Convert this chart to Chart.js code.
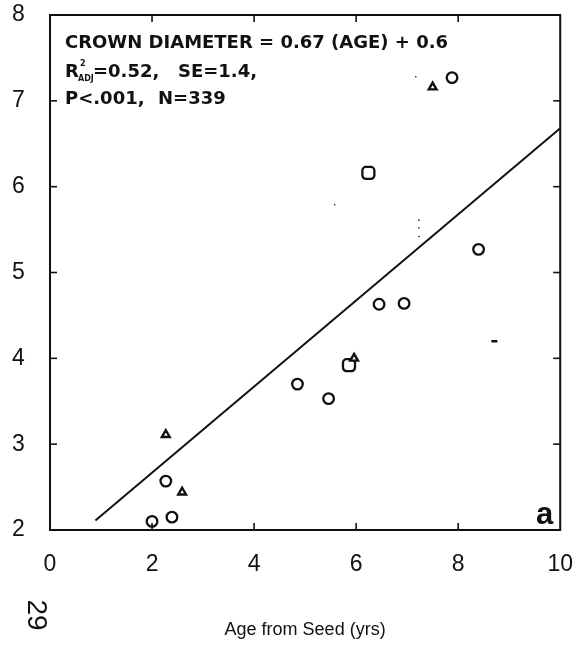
<!DOCTYPE html>
<html>
<head>
<meta charset="utf-8">
<script src="https://cdn.jsdelivr.net/npm/chart.js@4"></script>
<style>
  html, body { margin: 0; padding: 0; background: #fff; }
  #wrap { width: 573px; height: 660px; }
</style>
</head>
<body>
<div id="wrap"><canvas id="crownChart" width="573" height="660"></canvas></div>
<script>
// values (age in yrs, crown diameter)
const circleAge   = [2.0, 2.39, 2.27, 4.85, 5.46, 6.45, 6.94, 7.88, 8.40];
const circleCrown = [2.1, 2.15, 2.57, 3.70, 3.53, 4.63, 4.64, 7.27, 5.27];
const triAge      = [2.27, 2.59, 5.96, 7.50];
const triCrown    = [3.11, 2.44, 4.00, 7.16];
const squareAge   = [6.24, 5.86];
const squareCrown = [6.16, 3.92];
const dashAge     = [8.71];
const dashCrown   = [4.20];
const speckAge    = [7.17, 5.58, 7.23, 7.23, 7.23];
const speckCrown  = [7.28, 5.79, 5.61, 5.52, 5.42];
const fitAge      = [0.89, 10];
const fitCrown    = [2.11, 6.68];

const eqLine1 = 'CROWN DIAMETER = 0.67 (AGE) + 0.6';
const eqLine2 = ['=0.52,', 'SE=1.4,'];
const eqLine3 = ['P<.001,', 'N=339'];
const xTitle = 'Age from Seed (yrs)';
const pageNo = '29';
const panelTag = 'a';

const pts = (xs, ys) => xs.map((v, i) => ({ x: v, y: ys[i] }));
const INK = '#111';

// frame with inward ticks on all four sides, plus the text on the plot
const framePlugin = {
    id: 'frame',
    afterDraw(chart) {
        const { ctx, chartArea: { left, right, top, bottom }, scales: { x, y } } = chart;
        ctx.save();
        ctx.strokeStyle = INK;
        ctx.lineWidth = 2;
        ctx.strokeRect(left, top, right - left, bottom - top);
        ctx.lineWidth = 1.6;
        const seg = (a, b, c, d) => { ctx.beginPath(); ctx.moveTo(a, b); ctx.lineTo(c, d); ctx.stroke(); };
        x.ticks.forEach(t => {
            if (t.value <= x.min || t.value >= x.max) return;
            const px = x.getPixelForValue(t.value);
            seg(px, bottom, px, bottom - 7);
            seg(px, top, px, top + 7);
        });
        y.ticks.forEach(t => {
            if (t.value <= y.min || t.value >= y.max) return;
            const py = y.getPixelForValue(t.value);
            seg(left, py, left + 7, py);
            seg(right, py, right - 7, py);
        });

        ctx.fillStyle = INK;
        ctx.textBaseline = 'alphabetic';
        ctx.textAlign = 'left';
        ctx.font = 'bold 18px "DejaVu Sans"';
        ctx.fillText(eqLine1, 65, 48);
        ctx.fillText('R', 65, 77);
        ctx.fillText(eqLine2[0], 93, 77);
        ctx.fillText(eqLine2[1], 178, 77);
        ctx.fillText(eqLine3[0], 65, 104);
        ctx.fillText(eqLine3[1], 158, 104);
        ctx.font = 'bold 8px "DejaVu Sans"';
        ctx.fillText('2', 80, 66);
        ctx.fillText('ADJ', 78, 81);

        ctx.font = 'bold 31px "Liberation Sans"';
        ctx.textAlign = 'right';
        ctx.fillText(panelTag, right - 7, bottom - 6);

        ctx.font = '28px "Liberation Sans"';
        ctx.textAlign = 'center';
        ctx.textBaseline = 'middle';
        ctx.translate(36, 615);
        ctx.rotate(Math.PI / 2);
        ctx.fillText(pageNo, 0, 0);
        ctx.restore();
    }
};

const markerBase = { showLine: false, borderColor: INK, backgroundColor: '#fff', borderWidth: 2.3 };

new Chart(document.getElementById('crownChart'), {
    type: 'scatter',
    data: {
        datasets: [
            { type: 'line', data: pts(fitAge, fitCrown), borderColor: INK, borderWidth: 2, pointRadius: 0, fill: false },
            { ...markerBase, data: pts(circleAge, circleCrown), pointStyle: 'circle', pointRadius: 5.3 },
            { ...markerBase, data: pts(triAge, triCrown), pointStyle: 'triangle', pointRadius: 4.5, borderWidth: 2.4 },
            { ...markerBase, data: pts(squareAge, squareCrown), pointStyle: 'rectRounded', pointRadius: 7 },
            { ...markerBase, data: pts(dashAge, dashCrown), pointStyle: 'line', pointRadius: 3, borderWidth: 2.5 },
            { ...markerBase, data: pts(speckAge, speckCrown), pointStyle: 'circle', pointRadius: 0.8, borderWidth: 0, backgroundColor: INK }
        ]
    },
    options: {
        responsive: false,
        animation: false,
        events: [],
        layout: { padding: { left: 12, right: 12, top: 15, bottom: 0 } },
        plugins: { legend: { display: false }, tooltip: { enabled: false } },
        scales: {
            x: {
                type: 'linear', min: 0, max: 10,
                afterFit: s => { s.height = 130; },
                grid: { display: false, drawTicks: false }, border: { display: false },
                ticks: { stepSize: 2, color: INK, padding: 0, maxRotation: 0, font: { family: '"Liberation Sans"', size: 23, lineHeight: 3.05 } },
                title: { display: true, text: xTitle, color: INK, padding: { top: 0, bottom: 19 }, font: { family: '"Liberation Sans"', size: 18 } }
            },
            y: {
                type: 'linear', min: 2, max: 8,
                afterFit: s => { s.width = 38; },
                grid: { display: false, drawTicks: false }, border: { display: false },
                ticks: { stepSize: 1, color: INK, padding: 0, crossAlign: 'far', font: { family: '"Liberation Sans"', size: 23 } }
            }
        }
    },
    plugins: [framePlugin]
});
</script>
</body>
</html>
